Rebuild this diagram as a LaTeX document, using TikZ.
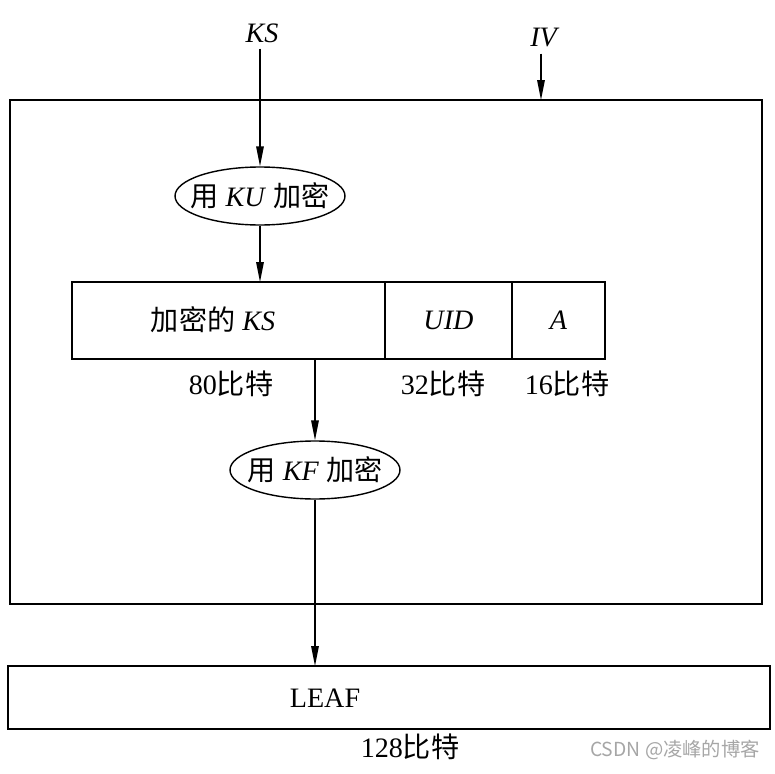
\documentclass[tikz,border=0pt]{standalone}
\usepackage{fontspec}
\setmainfont{Liberation Serif}
\newfontfamily\cjk{Noto Sans CJK SC}
\usetikzlibrary{arrows.meta,positioning,shapes.geometric}

\begin{document}
\begin{tikzpicture}[
  x=0.02cm, y=-0.02cm,
  font=\fontsize{16}{19}\selectfont,
  frame/.style={draw, line width=0.9pt, inner sep=0pt, outer sep=0pt},
  field/.style={frame, minimum height=1.54cm},
  enc/.style={draw, ellipse, line width=0.8pt, inner xsep=-7pt, inner ysep=0pt,
              minimum width=3.4cm, minimum height=1.16cm},
  bits/.style={inner sep=1pt},
  arr/.style={-{Triangle[length=4mm,width=1.5mm]}, line width=0.8pt}
]
\useasboundingbox (0,0) rectangle (775,774);
% outer frame and the LEAF field
\node[frame, minimum width=15.04cm, minimum height=10.08cm] (outer) at (386,352) {};
\node[frame, minimum width=15.24cm, minimum height=1.26cm] (leafbox) at (389,697.5) {};
\node (leaf) at (325,698) {LEAF};
\node[bits] (b128) at (410,747) {128{\cjk 比特}};
% inputs
\node (ks) at (262,33) {\textit{KS}};
\node (iv) at (545,38) {\textit{IV}};
% first encryption
\node[enc] (ku) at (260,196) {{\cjk 用} \textit{KU} {\cjk 加密}};
% record fields
\node[field, minimum width=6.26cm] (eks) at (228.5,320.5) {};
\node at (213,320) {{\cjk 加密的} \textit{KS}};
\node[field, minimum width=2.54cm, right=0pt of eks] (uid) {\textit{UID}};
\node[field, minimum width=1.86cm, right=0pt of uid] (a) {\textit{A}};
\node[bits] (b80) at (231,384) {80{\cjk 比特}};
\node[bits] (b32) at (443,384) {32{\cjk 比特}};
\node[bits] (b16) at (567,384) {16{\cjk 比特}};
% second encryption
\node[enc] (kf) at (315,470) {{\cjk 用} \textit{KF} {\cjk 加密}};
% watermark
\node[text=black!35, font=\cjk\fontsize{11}{13}\selectfont] (wm) at (675,750) {CSDN @凌峰的博客};
% connections
\draw[arr] (ks.south -| ku.north) -- (ku.north);
\draw[arr] (iv.south -| 541,0) -- (541,0 |- outer.north);
\draw[arr] (ku.south) -- (ku.south |- eks.north);
\draw[arr] (kf.north |- eks.south) -- (kf.north);
\draw[arr] (kf.south) -- (kf.south |- leafbox.north);
\end{tikzpicture}
\end{document}
